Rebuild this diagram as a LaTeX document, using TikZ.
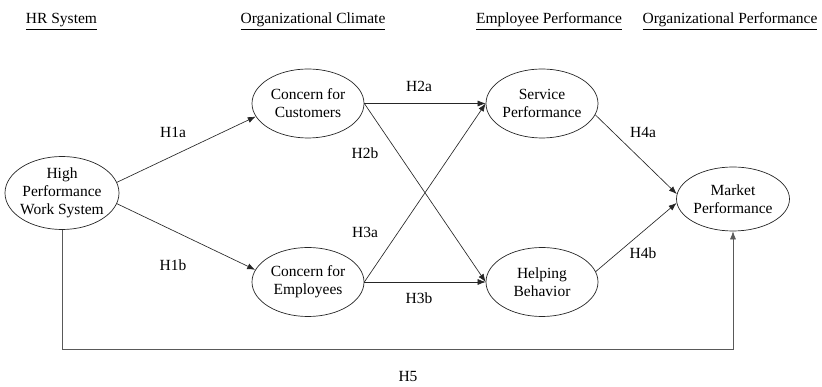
\documentclass[tikz,border=0pt]{standalone}
\usepackage{fontspec}
\setmainfont{Liberation Serif}
\usetikzlibrary{shapes.geometric,arrows.meta}
\begin{document}
\begin{tikzpicture}[x=1pt,y=-1pt,
  font=\fontsize{15.5}{18}\selectfont,
  var/.style={draw=black!85, line width=0.7pt, ellipse, minimum width=112pt, minimum height=69pt, inner sep=0pt},
  txt/.style={align=center, inner sep=0pt},
  arr/.style={draw=black!85, line width=0.65pt, -{Latex[length=8pt,width=6pt]}},
  hdr/.style={anchor=base, inner sep=0pt},
  lbl/.style={inner sep=0pt}]
\useasboundingbox (0,0) rectangle (822,387);

% headers
\node[hdr] (h1) at (61.5,24) {\underline{HR System}};
\node[hdr] (h2) at (313,24) {\underline{Organizational Climate}};
\node[hdr] (h3) at (549,24) {\underline{Employee Performance}};
\node[hdr] (h4) at (730,24) {\underline{Organizational Performance}};

% variables
\node[var, minimum width=114pt, minimum height=73pt] (hp) at (62,193) {};
\node[txt] (hpt) at (hp) {High\\Performance\\Work System};
\node[var] (cc) at (308,103.5) {};
\node[txt] (cct) at (cc) {Concern for\\Customers};
\node[var] (ce) at (308,282) {};
\node[txt] (cet) at (ce) {Concern for\\Employees};
\node[var] (sp) at (542,103.5) {};
\node[txt] (spt) at (sp) {Service\\Performance};
\node[var] (hb) at (542,282) {};
\node[txt] (hbt) at (hb) {Helping\\Behavior};
\node[var, minimum width=113pt, minimum height=64pt] (mp) at (733,199) {};
\node[txt] (mpt) at (mp) {Market\\Performance};

% connectors
\draw[arr] (hp.11) -- (cc.194);
\draw[arr] (hp.-11) -- (ce.167);
\draw[arr] (cc.east) -- (sp.west);
\draw[arr] (cc.east) -- (hb.west);
\draw[arr] (ce.east) -- (sp.west);
\draw[arr] (ce.east) -- (hb.west);
\draw[arr] (sp.-12) -- (mp.175);
\draw[arr] (hb.11) -- (mp.184);
\coordinate (bl) at (0,349);
\draw[arr, draw=black!65] (hp.south) -- (hp.south |- bl) -| (mp.south);

% labels
\node[lbl] (l1a) at (173,132) {H1a};
\node[lbl] (l1b) at (173,265) {H1b};
\node[lbl] (l2a) at (419,86) {H2a};
\node[lbl] (l2b) at (365,153) {H2b};
\node[lbl] (l3a) at (365,232) {H3a};
\node[lbl] (l3b) at (419,298) {H3b};
\node[lbl] (l4a) at (643,132) {H4a};
\node[lbl] (l4b) at (643,253) {H4b};
\node[lbl] (l5) at (408,377) {H5};
\end{tikzpicture}
\end{document}
